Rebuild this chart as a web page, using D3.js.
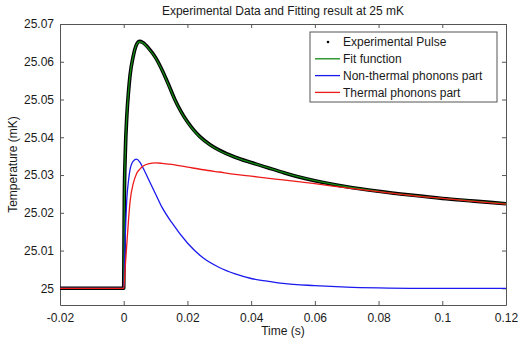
<!DOCTYPE html>
<html>
<head>
<meta charset="utf-8">
<script src="https://cdn.jsdelivr.net/npm/d3@7"></script>
<style>
  body { margin: 0; background: #fff; }
  svg { font-family: "Liberation Sans", Arial, sans-serif; }
</style>
</head>
<body>
<div id="chart-area"></div>
<script>
// time axis samples (s)
var times = [-0.02, 0, 0.0001, 0.0002, 0.0005, 0.001, 0.0015, 0.002, 0.003, 0.004, 0.005, 0.006, 0.008,
  0.010, 0.012, 0.014, 0.016, 0.018, 0.020, 0.022, 0.024, 0.027, 0.030, 0.035, 0.040, 0.045, 0.050, 0.055,
  0.060, 0.070, 0.080, 0.090, 0.100, 0.110, 0.120];

// experimental pulse (mK)
var expValues = [25.0, 25.0, 25.012, 25.024, 25.036, 25.046, 25.052, 25.0565, 25.0615, 25.0645, 25.0654, 25.0651, 25.0634,
  25.0611, 25.0579, 25.0541, 25.0501, 25.0468, 25.0441, 25.0419, 25.0401, 25.0381, 25.0366, 25.0347, 25.0333, 25.0320, 25.0307, 25.0295,
  25.0285, 25.0269, 25.0257, 25.0247, 25.0238, 25.0231, 25.0224];

// fit function (mK)
var fitValues = [25.0, 25.0, 25.012, 25.024, 25.036, 25.046, 25.052, 25.0565, 25.0615, 25.0645, 25.0653, 25.0650, 25.0633,
  25.0610, 25.0578, 25.0540, 25.0500, 25.0467, 25.0440, 25.0418, 25.0400, 25.0380, 25.0365, 25.0347, 25.0333, 25.0320, 25.0307, 25.0295,
  25.0285, 25.0269, 25.0257, 25.0247, 25.0238, 25.0231, 25.0224];

// component times (s)
var partTimes = [-0.02, 0, 0.0005, 0.001, 0.0015, 0.002, 0.003, 0.004, 0.005, 0.006, 0.008, 0.010, 0.012, 0.015,
  0.020, 0.025, 0.030, 0.035, 0.040, 0.045, 0.050, 0.060, 0.070, 0.080, 0.090, 0.100, 0.110, 0.120];

// non-thermal phonons part (mK)
var nonThermal = [25.0, 25.0, 25.014, 25.024, 25.0285, 25.0315, 25.0337, 25.0342, 25.0335, 25.0320, 25.0285, 25.0250, 25.0215, 25.0175,
  25.0120, 25.0080, 25.0055, 25.0038, 25.0026, 25.0019, 25.0013, 25.0007, 25.0003, 25.0001, 25.0, 25.0, 25.0, 25.0];

// thermal phonons part (mK)
var thermal = [25.0, 25.0, 25.006, 25.012, 25.018, 25.023, 25.0278, 25.0303, 25.0315, 25.0323, 25.0330, 25.0332, 25.0331, 25.0328,
  25.0321, 25.0314, 25.0308, 25.0302, 25.0297, 25.0292, 25.0287, 25.0277, 25.0266, 25.0256, 25.0246, 25.0238, 25.0230, 25.0223];

var xTicks = [-0.02, 0, 0.02, 0.04, 0.06, 0.08, 0.1, 0.12];
var yTicks = [25, 25.01, 25.02, 25.03, 25.04, 25.05, 25.06, 25.07];
var legendLabels = ["Experimental Pulse", "Fit function", "Non-thermal phonons part", "Thermal phonons part"];

var margin = {left: 60, right: 13, top: 24, bottom: 36};
var width = 519 - margin.left - margin.right;
var height = 341 - margin.top - margin.bottom;

var svg = d3.select("#chart-area").append("svg")
    .attr("width", 519)
    .attr("height", 341);

var g = svg.append("g")
    .attr("transform", "translate(" + margin.left + "," + margin.top + ")");

var x = d3.scaleLinear().domain([-0.02, 0.12]).range([0, width]);
var y = d3.scaleLinear().domain([24.99558, 25.07]).range([height, 0]);

var axisColor = "#555";
var fmt = d => String(+d.toFixed(2));

// axes with inward ticks
var xAxis = g.append("g").attr("transform", "translate(0," + height + ")")
  .call(d3.axisBottom(x).tickValues(xTicks).tickSizeInner(-4).tickSizeOuter(0).tickPadding(8).tickFormat(fmt));
var yAxis = g.append("g")
  .call(d3.axisLeft(y).tickValues(yTicks).tickSizeInner(-4).tickSizeOuter(0).tickPadding(6).tickFormat(fmt));
var xTop = g.append("g")
  .call(d3.axisTop(x).tickValues(xTicks).tickSizeInner(-4).tickSizeOuter(0).tickFormat(""));
var yRight = g.append("g").attr("transform", "translate(" + width + ",0)")
  .call(d3.axisRight(y).tickValues(yTicks).tickSizeInner(-4).tickSizeOuter(0).tickFormat(""));

[xAxis, yAxis, xTop, yRight].forEach(a => {
  a.selectAll("path").attr("stroke", axisColor);
  a.selectAll("line").attr("stroke", axisColor);
  a.selectAll("text").attr("fill", "#1a1a1a").attr("font-size", "12px")
    .attr("font-family", "'Liberation Sans', Arial, sans-serif");
});

// clip
g.append("clipPath").attr("id", "clip").append("rect")
  .attr("width", width).attr("height", height);
var plot = g.append("g").attr("clip-path", "url(#clip)");

var line = d3.line()
  .x(d => x(d[0]))
  .y(d => y(d[1]))
  .curve(d3.curveMonotoneX);

var expData = times.map((t, i) => [t, expValues[i]]);
var fitData = times.map((t, i) => [t, fitValues[i]]);
var blueData = partTimes.map((t, i) => [t, nonThermal[i]]);
var redData = partTimes.map((t, i) => [t, thermal[i]]);

plot.append("path").datum(expData)
  .attr("fill", "none").attr("stroke", "#000").attr("stroke-width", 3.6)
  .attr("stroke-linejoin", "round")
  .attr("d", line);

plot.append("path").datum(fitData)
  .attr("fill", "none").attr("stroke", "#138a13").attr("stroke-width", 1.3)
  .attr("d", line);

plot.append("path").datum(blueData)
  .attr("fill", "none").attr("stroke", "#1a1aee").attr("stroke-width", 1.3)
  .attr("d", line);

plot.append("path").datum(redData)
  .attr("fill", "none").attr("stroke", "#ee1a1a").attr("stroke-width", 1.3)
  .attr("d", line);

// title
svg.append("text")
  .attr("x", margin.left + width / 2)
  .attr("y", 15)
  .attr("text-anchor", "middle")
  .attr("font-size", "12px")
  .attr("fill", "#1a1a1a")
  .text("Experimental Data and Fitting result at 25 mK");

// X label
svg.append("text")
  .attr("x", margin.left + width / 2)
  .attr("y", 335)
  .attr("text-anchor", "middle")
  .attr("font-size", "12px")
  .attr("fill", "#1a1a1a")
  .text("Time (s)");

// Y label
svg.append("text")
  .attr("transform", "translate(17," + (margin.top + height / 2) + ") rotate(-90)")
  .attr("text-anchor", "middle")
  .attr("font-size", "12px")
  .attr("fill", "#1a1a1a")
  .text("Temperature (mK)");

// legend
var legend = svg.append("g").attr("transform", "translate(310,32)");
legend.append("rect")
  .attr("width", 187).attr("height", 70)
  .attr("fill", "#fff").attr("stroke", axisColor).attr("stroke-width", 1);

var legendColors = ["#000", "#138a13", "#1a1aee", "#ee1a1a"];
legendLabels.forEach((lab, i) => {
  var ly = 10 + i * 16.8;
  if (i === 0) {
    legend.append("circle").attr("cx", 18).attr("cy", ly).attr("r", 1.3).attr("fill", "#000");
  } else {
    legend.append("line").attr("x1", 5).attr("x2", 30).attr("y1", ly).attr("y2", ly)
      .attr("stroke", legendColors[i]).attr("stroke-width", 1.3);
  }
  legend.append("text")
    .attr("x", 33).attr("y", ly + 4.3)
    .attr("font-size", "12px").attr("fill", "#1a1a1a")
    .text(lab);
});
</script>
</body>
</html>
